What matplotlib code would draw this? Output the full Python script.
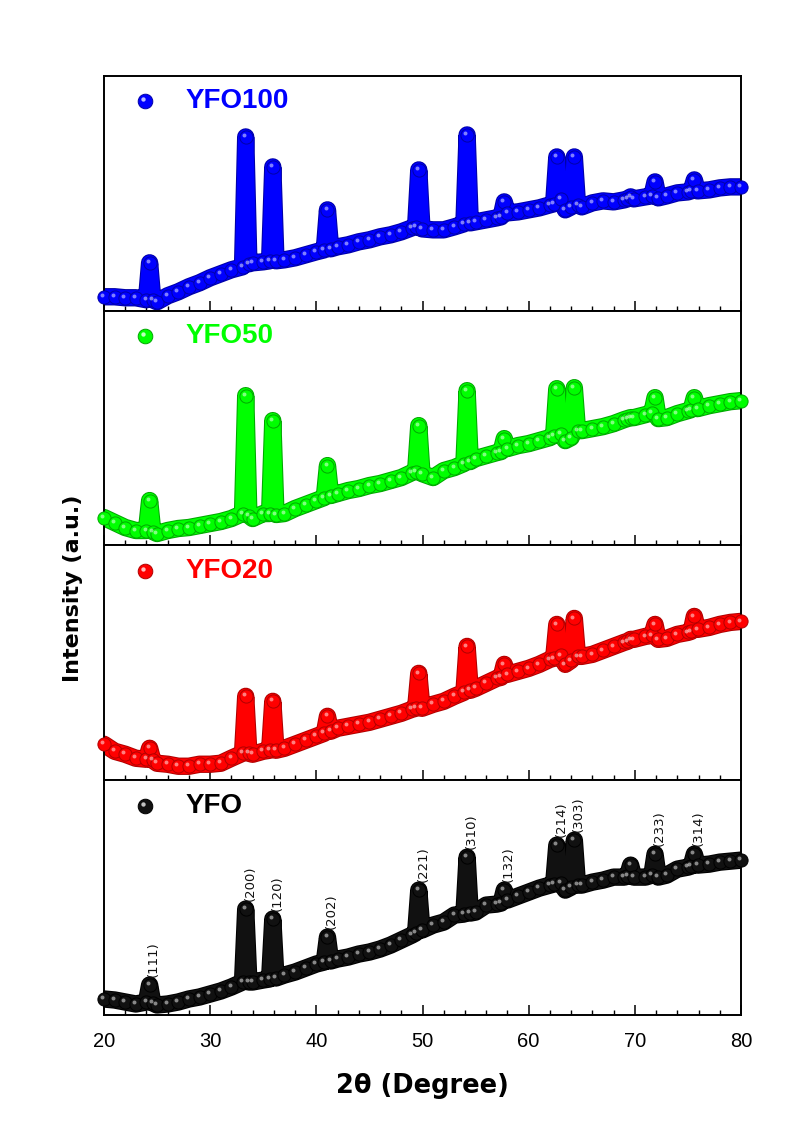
import matplotlib.pyplot as plt
import matplotlib.patheffects as pe
from matplotlib.ticker import MultipleLocator
from matplotlib.transforms import offset_copy


# 2-theta positions shared by all four scans (degrees)
two_theta = [
    20, 21, 22, 23, 24, 24.3, 24.6, 25, 26, 27, 28, 29, 30, 31, 32,
    33.05, 33.35, 33.65, 34, 35, 35.6, 35.9, 36.2, 37, 38, 39, 40,
    40.75, 41.05, 41.35, 42, 43, 44, 45, 46, 47, 48, 49, 49.35, 49.65, 49.95,
    51, 52, 53, 53.9, 54.2, 54.5, 55, 56, 57, 57.4, 57.7, 58, 59, 60, 61, 62,
    62.35, 62.65, 63.0, 63.45, 64.0, 64.3, 64.6, 65, 66, 67, 68, 69,
    69.3, 69.6, 69.9, 71, 71.6, 71.9, 72.2, 73, 74, 75, 75.3, 75.6, 75.9,
    77, 78, 79, 80,
]

yfo100 = [
    14, 14, 13, 13, 11, 48, 11, 9, 15, 19, 24, 28, 33, 37, 41,
    44, 174, 47, 48, 49, 50, 144, 50, 51, 53, 56, 59,
    61, 101, 62, 64, 66, 69, 71, 74, 76, 79, 83, 84, 141, 82,
    81, 81, 84, 87, 176, 88, 89, 91, 93, 94, 109, 98, 99, 101, 103, 106,
    107, 154, 112, 101, 104, 154, 106, 104, 108, 110, 109, 111,
    112, 114, 112, 114, 115, 129, 113, 115, 118, 119, 120, 131, 120,
    121, 123, 124, 124,
]

yfo50 = [
    28, 23, 18, 15, 15, 45, 14, 12, 15, 17, 18, 20, 22, 24, 27,
    32, 150, 30, 27, 32, 32, 125, 31, 32, 37, 41, 45,
    48, 80, 50, 52, 55, 57, 60, 62, 65, 68, 73, 74, 120, 72,
    68, 75, 78, 82, 155, 84, 87, 90, 93, 94, 107, 97, 100, 102, 105, 108,
    110, 157, 112, 105, 108, 158, 115, 115, 117, 119, 122, 126,
    127, 128, 128, 131, 133, 148, 127, 128, 132, 135, 136, 148, 137,
    140, 142, 144, 145,
]

yfo20 = [
    36, 29, 26, 22, 21, 32, 20, 17, 16, 14, 14, 16, 16, 17, 22,
    27, 84, 27, 26, 29, 30, 79, 30, 32, 36, 40, 44,
    47, 64, 49, 52, 54, 56, 58, 61, 64, 67, 71, 72, 107, 72,
    76, 79, 84, 88, 134, 90, 92, 97, 102, 103, 116, 106, 109, 112, 116, 121,
    122, 156, 125, 116, 120, 162, 124, 124, 126, 130, 134, 138,
    139, 141, 141, 144, 145, 156, 141, 142, 146, 148, 149, 164, 151,
    153, 156, 158, 159,
]

yfo = [
    16, 15, 13, 11, 13, 30, 12, 10, 11, 13, 16, 18, 21, 24, 28,
    33, 106, 33, 33, 35, 36, 96, 37, 40, 43, 47, 51,
    53, 78, 54, 56, 58, 61, 63, 66, 70, 75, 80, 82, 125, 85,
    90, 93, 100, 101, 158, 102, 103, 110, 111, 112, 125, 115, 119, 123, 127, 130,
    131, 170, 132, 125, 128, 175, 130, 130, 133, 135, 138, 138,
    139, 150, 138, 138, 140, 161, 138, 140, 146, 148, 149, 161, 150,
    151, 153, 154, 155,
]

sample_names = ["YFO100", "YFO50", "YFO20", "YFO"]
sample_colors = ["#0000ff", "#00ff00", "#ff0000", "#111111"]
edge_colors = ["#0000a8", "#00a800", "#b00000", "#000000"]
label_colors = ["#0000ff", "#00ff00", "#ff0000", "#000000"]

# Miller indices marked on the YFO scan
hkl_labels = ["(111)", "(200)", "(120)", "(202)", "(221)", "(310)",
              "(132)", "(214)", "(303)", "(233)", "(314)"]
hkl_positions = [24.3, 33.35, 35.9, 41.05, 49.65, 54.2,
                 57.7, 62.65, 64.3, 71.9, 75.6]


def draw_spheres(ax, x, y, color, edge, size, trans=None, shine_alpha=0.75):
    """Shaded balls: filled circle plus a small offset highlight."""
    if trans is None:
        trans = ax.transData
    ax.plot(x, y, "o", ms=size, mfc=color, mec=edge, mew=0.7,
            transform=trans, zorder=3, clip_on=False)
    shine = offset_copy(trans, fig=ax.figure, x=-size * 0.14, y=size * 0.14,
                        units="points")
    ax.plot(x, y, "o", ms=size * 0.3, mfc="white", mec="none",
            alpha=shine_alpha, transform=shine, zorder=4, clip_on=False)


fig, axes = plt.subplots(4, 1, figsize=(7.87, 11.26), dpi=100, sharex=True)
fig.subplots_adjust(left=0.1321, right=0.9416, bottom=0.0986, top=0.9325,
                    hspace=0)

series = [yfo100, yfo50, yfo20, yfo]
for ax, values, name, color, edge, lcolor in zip(
        axes, series, sample_names, sample_colors, edge_colors, label_colors):
    ax.plot(two_theta, values, color=color, lw=11, solid_joinstyle="round",
            solid_capstyle="round", zorder=2,
            path_effects=[pe.Stroke(linewidth=12.5, foreground=edge), pe.Normal()])
    draw_spheres(ax, two_theta, values, color, edge, 9.5, shine_alpha=0.5)

    ax.set_xlim(20, 80)
    ax.set_ylim(0, 235)
    ax.set_yticks([])
    ax.xaxis.set_major_locator(MultipleLocator(10))
    ax.xaxis.set_minor_locator(MultipleLocator(2))
    ax.tick_params(axis="x", which="major", direction="in", length=7.5,
                   width=1.1, top=False, labelsize=14.5, pad=12)
    ax.tick_params(axis="x", which="minor", direction="in", length=3.8,
                   width=1.0, top=False)
    for spine in ax.spines.values():
        spine.set_linewidth(1.4)

    # sample key in the upper-left corner
    draw_spheres(ax, [0.064], [0.892], color, edge, 10.5, trans=ax.transAxes)
    ax.text(0.128, 0.892, name, transform=ax.transAxes, color=lcolor,
            fontsize=20, fontweight="bold", family="Liberation Sans",
            ha="left", va="center")

for label in axes[-1].get_xticklabels():
    label.set_family("Liberation Sans")

# peak indexing on the bottom scan
for hkl, pos in zip(hkl_labels, hkl_positions):
    peak = yfo[two_theta.index(pos)]
    axes[-1].annotate(hkl, xy=(pos, peak), xytext=(3, 6),
                      textcoords="offset points", rotation=90,
                      ha="center", va="bottom", fontsize=9.5, color="#111111")

axes[-1].set_xlabel("2\u03b8 (Degree)", fontsize=18.5, fontweight="bold",
                    labelpad=16)
fig.text(73 / 787, 1 - 588 / 1126, "Intensity (a.u.)", rotation=90,
         fontsize=16, fontweight="bold", ha="center", va="center")

fig.savefig("out.png", dpi=100)
